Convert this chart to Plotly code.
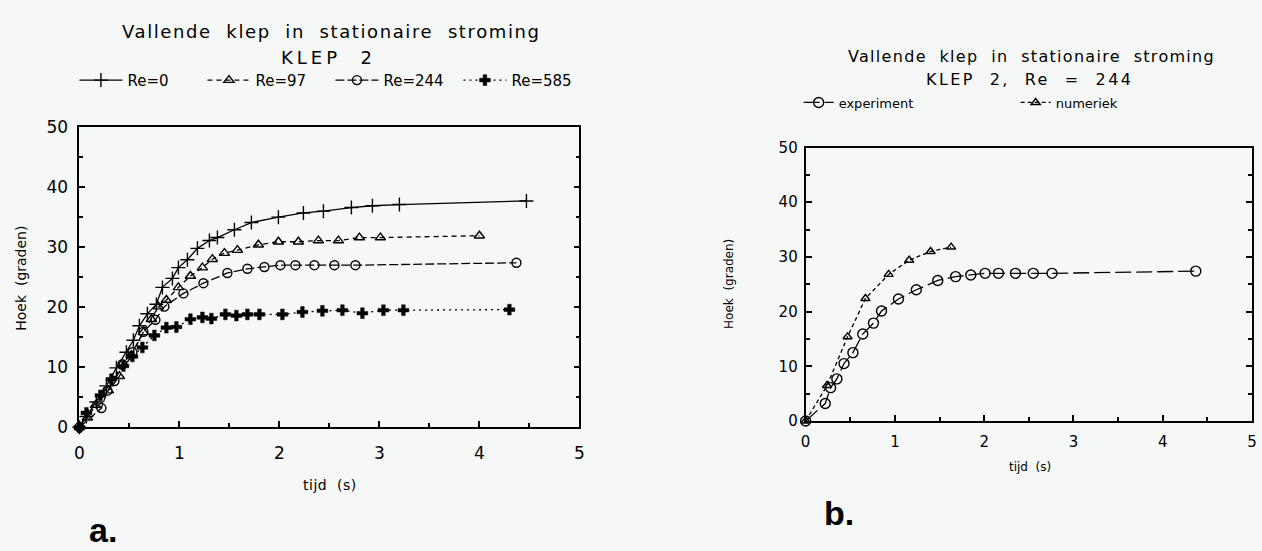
import plotly.graph_objects as go

W, H = 1262, 551
FONT = "DejaVu Sans"
BG = "#f6f8f8"

# ---- figure a: KLEP 2 at four Reynolds numbers (time in s, angle in degrees) ----
re0_t = [0, 0.07, 0.17, 0.27, 0.37, 0.47, 0.54, 0.60, 0.68, 0.77, 0.83, 0.93, 0.99,
         1.08, 1.18, 1.30, 1.38, 1.55, 1.72, 1.99, 2.24, 2.44, 2.72, 2.93, 3.20, 4.47]
re0_deg = [0, 1.8, 4.2, 6.9, 9.9, 12.5, 14.5, 16.9, 18.9, 20.5, 23.3, 24.8, 26.6,
           27.9, 29.8, 31.1, 31.6, 32.9, 34.1, 35.0, 35.7, 36.0, 36.6, 36.9, 37.1, 37.7]

re97_t = [0, 0.08, 0.16, 0.29, 0.40, 0.52, 0.64, 0.72, 0.79, 0.87, 0.99, 1.11,
          1.23, 1.33, 1.45, 1.58, 1.79, 1.99, 2.19, 2.39, 2.59, 2.80, 3.01, 4.00]
re97_deg = [0, 1.6, 3.7, 6.1, 8.5, 12.0, 15.8, 18.0, 20.1, 21.2, 23.3, 25.2,
            26.6, 28.0, 29.0, 29.5, 30.4, 30.9, 30.9, 31.1, 31.1, 31.6, 31.6, 31.9]

# Re = 244 experiment (shared by figures a and b)
re244_t = [0, 0.22, 0.28, 0.35, 0.43, 0.53, 0.64, 0.76, 0.85, 1.04, 1.24, 1.48,
           1.68, 1.85, 2.01, 2.16, 2.35, 2.55, 2.76, 4.37]
re244_deg = [0, 3.2, 6.1, 7.7, 10.5, 12.5, 15.9, 17.9, 20.1, 22.3, 24.0, 25.7,
             26.4, 26.7, 27.0, 27.0, 27.0, 27.0, 27.0, 27.4]

re585_t = [0, 0.07, 0.21, 0.32, 0.44, 0.53, 0.63, 0.75, 0.87, 0.97, 1.11, 1.23, 1.32,
           1.46, 1.57, 1.68, 1.80, 2.03, 2.23, 2.43, 2.63, 2.83, 3.04, 3.24, 4.30]
re585_deg = [0, 2.4, 5.3, 8.0, 10.2, 11.8, 13.3, 15.3, 16.6, 16.7, 18.0, 18.3, 18.1,
             18.8, 18.6, 18.8, 18.8, 18.8, 19.2, 19.4, 19.5, 19.0, 19.5, 19.5, 19.6]

# ---- figure b: numerical result for Re = 244 ----
num_t = [0, 0.24, 0.47, 0.67, 0.93, 1.16, 1.40, 1.63]
num_deg = [0, 6.5, 15.4, 22.4, 26.8, 29.4, 31.0, 31.8]

x_ticks = [0, 1, 2, 3, 4, 5]
y_ticks = [0, 10, 20, 30, 40, 50]

fig = go.Figure()


def add(xs, ys, name, symbol, size, dash, xa, ya, legend, mlw=1.4):
    fig.add_trace(go.Scatter(
        x=xs, y=ys, name=name, mode="lines+markers",
        line=dict(color="black", width=1.3, dash=dash),
        marker=dict(symbol=symbol, size=size, color="black",
                    line=dict(color="black", width=mlw)),
        xaxis=xa, yaxis=ya, legend=legend, cliponaxis=False))


add(re0_t, re0_deg, "Re=0", "cross-thin", 10, "solid", "x", "y", "legend")
add(re97_t, re97_deg, "Re=97", "triangle-up-open", 9, "5px,4px", "x", "y", "legend")
add(re244_t, re244_deg, "Re=244", "circle-open", 9, "9px,3px", "x", "y", "legend")
add(re585_t, re585_deg, "Re=585", "cross", 9, "2px,4px", "x", "y", "legend", mlw=0.5)

add(re244_t, re244_deg, "experiment", "circle-open", 10, "16px,5px", "x2", "y2", "legend2")
add(num_t, num_deg, "numeriek", "triangle-up-open", 8, "4px,3px", "x2", "y2", "legend2")


def px_x(p):
    return p / W


def px_y(p):
    return 1 - p / H


def axis(domain, ticks, minor_dtick, size, standoff, anchor, mirror):
    return dict(
        domain=domain, range=[0, 50] if ticks is y_ticks else [0, 5], tickvals=ticks,
        minor=dict(dtick=minor_dtick, ticks="inside", ticklen=4, tickcolor="black"),
        tickfont=dict(size=size), ticklabelstandoff=standoff, anchor=anchor,
        showgrid=False, zeroline=False, showline=True, linecolor="black", linewidth=1.8,
        ticks="inside", tickcolor="black", tickwidth=1.5, ticklen=6,
        color="black", mirror=mirror,
    )


fig.update_layout(
    width=W, height=H, margin=dict(l=0, r=0, t=0, b=0),
    paper_bgcolor=BG, plot_bgcolor=BG,
    font=dict(family=FONT, color="black"),
    xaxis=axis([px_x(75), px_x(579)], x_ticks, 0.5, 17, 9, "y", True),
    yaxis=axis([px_y(433), px_y(121.5)], y_ticks, 5, 17, 6, "x", "ticks"),
    xaxis2=axis([px_x(807), px_x(1257)], x_ticks, 0.5, 15, 6, "y2", True),
    yaxis2=axis([px_y(426.5), px_y(142.7)], y_ticks, 5, 15, 3, "x2", "ticks"),
    legend=dict(orientation="h", x=px_x(70), xanchor="left", y=px_y(73), yanchor="middle",
                bgcolor="rgba(0,0,0,0)", font=dict(size=15, family=FONT),
                entrywidth=70, entrywidthmode="pixels", itemwidth=43),
    legend2=dict(orientation="h", x=px_x(800), xanchor="left", y=px_y(96), yanchor="middle",
                 bgcolor="rgba(0,0,0,0)", font=dict(size=13, family=FONT),
                 entrywidth=172, entrywidthmode="pixels", itemwidth=30),
)


def label(text, x, y, size, angle=0, bold=False, spacing=0):
    if spacing:
        text = f'<span style="letter-spacing:{spacing}px">{text}</span>'
    fig.add_annotation(
        text=f"<b>{text}</b>" if bold else text,
        x=px_x(x), y=px_y(y), xref="paper", yref="paper",
        xanchor="center", yanchor="middle", showarrow=False, textangle=angle,
        font=dict(family=FONT if not bold else "Liberation Sans", size=size, color="black"))


# titles
label("Vallende&nbsp; klep&nbsp; in&nbsp; stationaire&nbsp; stroming", 329, 22, 18, spacing=1.6)
label("KLEP&nbsp; 2", 326, 49, 18, spacing=4)
label("Vallende&nbsp; klep&nbsp; in&nbsp; stationaire&nbsp; stroming", 1035, 48, 16, spacing=1.3)
label("KLEP&nbsp; 2,&nbsp; Re&nbsp; =&nbsp; 244", 1033, 72, 16, spacing=2.4)

# axis titles
label("tijd&nbsp; (s)", 328, 493, 14, spacing=0.5)
label("Hoek&nbsp; (graden)", 16, 278, 14, angle=-90)
label("tijd&nbsp; (s)", 1033, 474, 12)
label("Hoek&nbsp; (graden)", 729, 284, 12, angle=-90)

# panel letters
label("a.", 99, 540, 34, bold=True)
label("b.", 841, 522, 34, bold=True)

fig.write_html("out.html")
